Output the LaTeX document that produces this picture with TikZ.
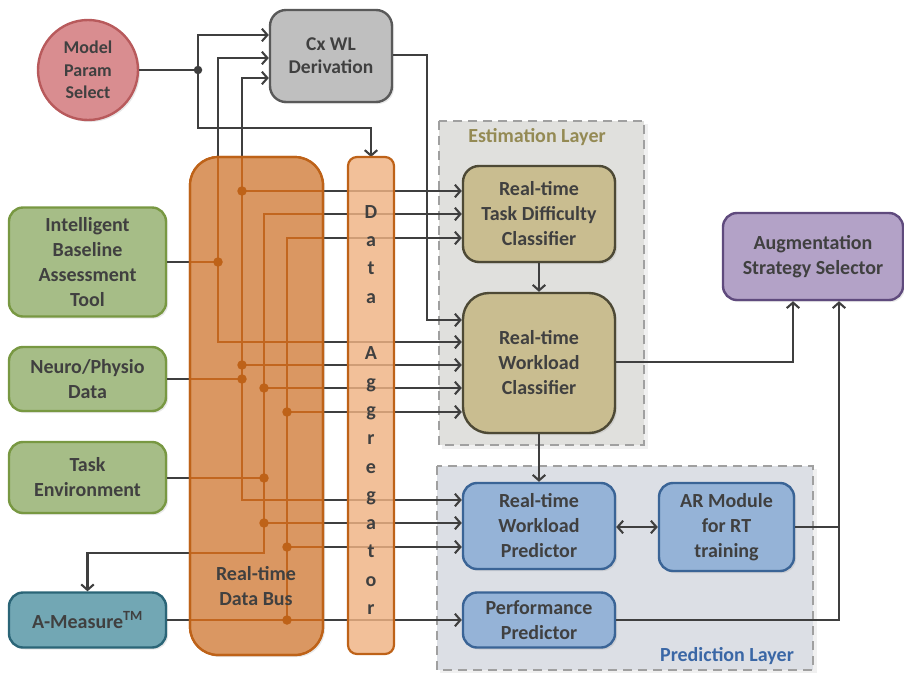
\documentclass[tikz,border=0pt]{standalone}
\usepackage{fontspec}
\setmainfont{Carlito}
\usetikzlibrary{arrows.meta,shadows}

\definecolor{ink}{HTML}{404040}
\definecolor{wirec}{HTML}{3F3F3F}
\definecolor{pinkF}{HTML}{D98D90}
\definecolor{pinkD}{HTML}{B85A5C}
\definecolor{greyF}{HTML}{BFBFBF}
\definecolor{greyD}{HTML}{595959}
\definecolor{greenF}{HTML}{A6BD87}
\definecolor{greenD}{HTML}{789842}
\definecolor{tealF}{HTML}{72A7B4}
\definecolor{tealD}{HTML}{2B6577}
\definecolor{tanF}{HTML}{C9BD90}
\definecolor{tanD}{HTML}{4D4935}
\definecolor{purpF}{HTML}{B3A2C7}
\definecolor{purpD}{HTML}{5F4A7D}
\definecolor{blueF}{HTML}{95B3D7}
\definecolor{blueD}{HTML}{3A6496}
\definecolor{busF}{HTML}{DA9762}
\definecolor{busD}{HTML}{BE6218}
\definecolor{busW}{HTML}{C2661F}
\definecolor{aggF}{HTML}{EFB283}
\definecolor{estF}{HTML}{E0E0DD}
\definecolor{predF}{HTML}{DCDFE5}
\definecolor{layerD}{HTML}{A0A0A0}
\definecolor{estT}{HTML}{948A54}
\definecolor{predT}{HTML}{3A67A6}

% wires that run through the data bus; drawn once in grey and
% once more, clipped to the bus, in the bus colour
\newcommand\buswires[1]{%
  \draw[arr,#1] (d1) |- (cx.west |- 0,58);
  \draw[arr,#1] (d1) |- (wlc.west |- 0,342);
  \draw[wire,#1] (iba.east |- d1) -- (d1);
  \draw[arr,#1] (d2c) |- (cx.west |- 0,78);
  \draw[arr,#1] (d2c) |- (wlp.west |- 0,500);
  \draw[arr,#1] (d2a) -- (tdc.west |- d2a);
  \draw[arr,#1] (d2b) -- (wlc.west |- d2b);
  \draw[wire,#1] (npd.east |- d2c) -- (d2c);
  \draw[arr,#1] (d3b) |- (tdc.west |- 0,214);
  \draw[arr,#1] (d3b) -- (d3b |- 0,553) -| (am.north);
  \draw[arr,#1] (d3a) -- (wlc.west |- d3a);
  \draw[arr,#1] (d3c) -- (wlp.west |- d3c);
  \draw[wire,#1] (te.east |- d3b) -- (d3b);
  \draw[arr,#1] (d4c) |- (tdc.west |- 0,238);
  \draw[arr,#1] (d4a) -- (wlc.west |- d4a);
  \draw[arr,#1] (d4b) -- (wlp.west |- d4b);
  \draw[arr,#1] (am.east |- d4c) -- (pp.west |- d4c);
}

\begin{document}
\begin{tikzpicture}[x=1pt,y=-1pt,
  font=\fontsize{20}{25}\selectfont\bfseries,
  txt/.style={text=ink, align=center, inner sep=0pt},
  box/.style={txt, draw, line width=2.4pt, rounded corners=14pt},
  wire/.style={draw=wirec, line width=2.1pt},
  arr/.style={wire, -{Straight Barb[length=5.5pt,width=12.5pt]}},
  arrboth/.style={wire, {Straight Barb[length=5.5pt,width=12.5pt]}-{Straight Barb[length=5.5pt,width=12.5pt]}},
  layer/.style={draw=layerD, line width=1.6pt, dash pattern=on 9pt off 6pt},
  bdot/.style={circle, fill=busD, inner sep=0pt, minimum size=9.5pt},
  gdot/.style={circle, fill=wirec, inner sep=0pt, minimum size=8.5pt},
  shade/.style={drop shadow={shadow xshift=2pt, shadow yshift=-2pt, opacity=0.18}}
]
\useasboundingbox (0,0) rectangle (904,673);

% layers
\fill[black, opacity=0.06] (442,124) rectangle (648,449);
\draw[layer, fill=estF] (439,121) rectangle (644,445);
\fill[black, opacity=0.06] (440,469) rectangle (817,673);
\draw[layer, fill=predF] (437,466) rectangle (813,670);
\node[text=estT, inner sep=0pt] (estlab) at (537,137) {Estimation Layer};
\node[text=predT, inner sep=0pt] (predlab) at (727,656) {Prediction Layer};

% blocks
\node[circle, txt, draw=pinkD, fill=pinkF, line width=2.4pt, minimum size=100pt,
      font=\fontsize{18}{22.5}\selectfont\bfseries, shade] (mps) at (88,70) {Model\\Param\\Select};
\node[box, draw=greyD, fill=greyF, minimum width=122pt, minimum height=92pt,
      rounded corners=16pt, font=\fontsize{19.5}{23}\selectfont\bfseries, shade] (cx) at (331,56) {Cx WL\\Derivation};
\node[box, draw=greenD, fill=greenF, minimum width=157pt, minimum height=109pt, shade] (iba) at (87.5,262) {Intelligent\\Baseline\\Assessment\\Tool};
\node[box, draw=greenD, fill=greenF, minimum width=157pt, minimum height=64pt, shade] (npd) at (87.5,379) {Neuro/Physio\\Data};
\node[box, draw=greenD, fill=greenF, minimum width=157pt, minimum height=71pt, shade] (te) at (87.5,477.5) {Task\\Environment};
\node[box, draw=tealD, fill=tealF, minimum width=157pt, minimum height=55pt, shade] (am) at (87.5,620) {A-Measure\textsuperscript{TM}};
\node[box, draw=tanD, fill=tanF, minimum width=152pt, minimum height=96pt, rounded corners=16pt, shade] (tdc) at (539,214) {Real-time\\Task Difficulty\\Classifier};
\node[box, draw=tanD, fill=tanF, minimum width=152pt, minimum height=140pt, rounded corners=26pt, shade] (wlc) at (539,363) {Real-time\\Workload\\Classifier};
\node[box, draw=purpD, fill=purpF, minimum width=180pt, minimum height=87pt, shade] (aug) at (813,256.5) {Augmentation\\Strategy Selector};
\node[box, draw=blueD, fill=blueF, minimum width=152pt, minimum height=86pt, shade] (wlp) at (539,526) {Real-time\\Workload\\Predictor};
\node[box, draw=blueD, fill=blueF, minimum width=135pt, minimum height=88pt, shade] (arm) at (726.5,527) {AR Module\\for RT\\training};
\node[box, draw=blueD, fill=blueF, minimum width=152pt, minimum height=55pt, shade] (pp) at (539,620) {Performance\\Predictor};

% junction points
\coordinate (j0) at (198,70);
\coordinate (d1) at (218,262);
\coordinate (d2a) at (242,191);
\coordinate (d2b) at (242,365);
\coordinate (d2c) at (242,379);
\coordinate (d3a) at (264,388);
\coordinate (d3b) at (264,478);
\coordinate (d3c) at (264,523);
\coordinate (d4a) at (287,412);
\coordinate (d4b) at (287,547);
\coordinate (d4c) at (287,620);
\coordinate (cxdn) at (427,320);
\coordinate (rj) at (839,527);

% model parameters
\draw[wire] (mps.east |- j0) -- (j0);
\draw[arr] (j0) |- (cx.west |- 0,35);
\draw[arr] (j0) -- (j0 |- 0,128) -| (371,157);

\buswires{}

% estimation / prediction flow
\draw[arr] (cx.east |- 0,55) -| (cxdn) -- (wlc.west |- cxdn);
\draw[arr] (tdc) -- (wlc);
\draw[arr] (wlc.east |- 0,362) -| (aug.south -| 793,0);
\draw[arr] (wlc) -- (wlp);
\draw[arrboth] (wlp.east |- rj) -- (arm.west |- rj);
\draw[wire] (arm.east |- rj) -- (rj);
\draw[arr] (pp.east) -| (aug.south -| 839,0);

% data bus
\path[fill=busF, draw=busD, line width=2.2pt, rounded corners=28pt, shade] (190,157) rectangle (323,655);
\begin{scope}
  \clip[rounded corners=28pt] (191,158) rectangle (322,654);
  \buswires{draw=busW}
\end{scope}
\draw[busD, line width=2.2pt, rounded corners=28pt] (190,157) rectangle (323,655);
\node[txt] (buslab) at (256,586) {Real-time\\Data Bus};

% data aggregator
\path[fill=aggF, fill opacity=0.82, draw=busD, line width=2.2pt, rounded corners=9pt] (348,157) rectangle (394,654);
\node[txt, font=\fontsize{20}{28.3}\selectfont\bfseries] (agglab) at (371,410)
  {D\\a\\t\\a\\[0pt]~\\A\\g\\g\\r\\e\\g\\a\\t\\o\\r};

% junction dots
\node[gdot] at (j0) {};
\foreach \p in {d1,d2a,d2b,d2c,d3a,d3b,d3c,d4a,d4b,d4c}
  \node[bdot] at (\p) {};
\end{tikzpicture}
\end{document}
